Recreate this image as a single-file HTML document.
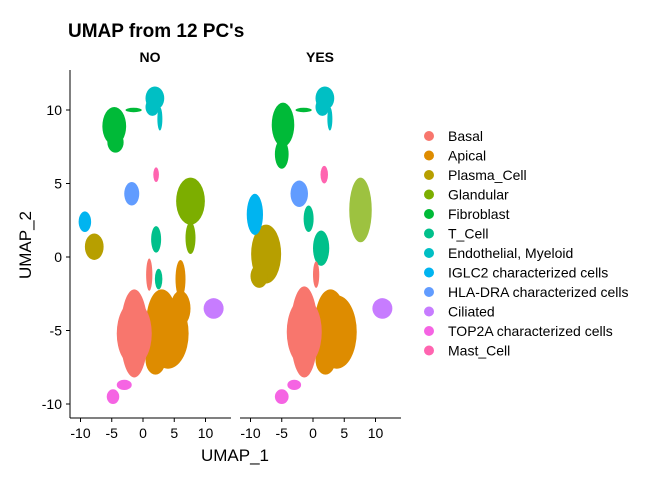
<!DOCTYPE html>
<html><head><meta charset="utf-8">
<style>
body{margin:0;background:#fff;font-family:"Liberation Sans",sans-serif;}
svg text{font-family:"Liberation Sans",sans-serif;}
</style></head>
<body>
<svg id="chart" width="672" height="480" viewBox="0 0 672 480" xmlns="http://www.w3.org/2000/svg">
<text x="68" y="37" font-size="19" font-weight="bold">UMAP from 12 PC's</text>
<text x="150" y="62" font-size="14" font-weight="bold" text-anchor="middle">NO</text>
<text x="320" y="62" font-size="14" font-weight="bold" text-anchor="middle">YES</text>
<text transform="translate(31,245) rotate(-90)" font-size="17" text-anchor="middle">UMAP_2</text>
<text x="235" y="461" font-size="17" text-anchor="middle">UMAP_1</text>
<g id="panels"></g>
<g id="legend"></g>
</svg>
<script>
const clusterNames=["Basal","Apical","Plasma_Cell","Glandular","Fibroblast","T_Cell","Endothelial, Myeloid","IGLC2 characterized cells","HLA-DRA characterized cells","Ciliated","TOP2A characterized cells","Mast_Cell"];
const clusterColors=["#F8766D","#DE8C00","#B79F00","#7CAE00","#00BA38","#00C08B","#00BFC4","#00B4F0","#619CFF","#C77CFF","#F564E3","#FF64B0"];
const xTicks=[-10,-5,0,5,10];
const yTicks=[-10,-5,0,5,10];
// blobs: cluster index, center x, center y, radius x, radius y (data units)
const noCluster=[4,4,4,6,6,6,3,3,9,2,7,8,11,5,5,1,1,1,1,1,0,0,0,10,10];
const noX=[-4.6,-4.4,-1.5,1.9,1.5,2.7,7.6,7.6,11.3,-7.8,-9.3,-1.8,2.1,2.1,2.5,4.0,3.0,2.0,6.0,6.0,-1.4,-1.4,1.0,-4.8,-3.0];
const noY=[8.9,7.8,10.0,10.8,10.2,9.4,3.8,1.3,-3.5,0.7,2.4,4.3,5.6,1.2,-1.5,-5.2,-4.5,-7.0,-1.5,-3.5,-5.2,-5.2,-1.2,-9.5,-8.7];
const noRX=[1.9,1.3,1.3,1.5,1.1,0.4,2.3,0.8,1.6,1.5,1.0,1.2,0.45,0.8,0.6,3.3,2.5,1.6,0.8,1.6,2.2,2.8,0.5,1.0,1.2];
const noRY=[1.3,0.7,0.15,0.8,0.6,0.8,1.6,1.1,0.7,0.9,0.7,0.8,0.5,0.9,0.7,2.4,2.3,1.0,1.3,1.2,3.0,2.2,1.1,0.5,0.35];
const yesCluster=[4,4,4,6,6,6,3,9,2,2,7,8,11,5,5,1,1,1,0,0,0,10,10];
const yesX=[-4.8,-5.0,-1.5,1.9,1.5,2.7,7.6,11.1,-7.5,-8.6,-9.3,-2.2,1.8,1.3,-0.7,3.8,2.8,2.0,-1.4,-1.4,0.5,-5.0,-3.0];
const yesY=[9.0,7.0,10.0,10.8,10.2,9.4,3.2,-3.5,0.2,-1.3,2.9,4.3,5.6,0.6,2.6,-5.1,-4.5,-7.0,-5.1,-5.1,-1.2,-9.5,-8.7];
const yesRX=[1.8,1.1,1.3,1.5,1.1,0.4,1.8,1.6,2.4,1.4,1.3,1.4,0.6,1.3,0.8,3.2,2.5,1.6,2.2,2.8,0.5,1.1,1.1];
const yesRY=[1.5,1.0,0.15,0.8,0.6,0.8,2.2,0.7,2.0,0.8,1.4,0.9,0.6,1.2,0.9,2.5,2.3,1.0,3.1,2.3,0.9,0.5,0.35];

const NS="http://www.w3.org/2000/svg";
const panels=document.getElementById('panels');
function yScale(v){return 257-14.7*v;}
function mk(tag,attrs){const e=document.createElementNS(NS,tag);for(const k in attrs)e.setAttribute(k,attrs[k]);return e;}
function drawPanel(name,offset,cl,xs,ys,rxs,rys,sparseGland){
  const xScale=v=>offset+6.25*v;
  const g=mk('g',{});
  
  
  panels.appendChild(g);
  for(let i=0;i<cl.length;i++){
    const e=mk('ellipse',{cx:xScale(xs[i]),cy:yScale(ys[i]),rx:rxs[i]*6.25,ry:rys[i]*14.7,fill:clusterColors[cl[i]]});
    if(sparseGland&&cl[i]===3)e.setAttribute('fill-opacity','0.75');
    
    
    g.appendChild(e);
  }
  const ax=mk('line',{x1:offset-73,x2:offset+88,y1:418,y2:418,stroke:'#000','stroke-width':1});
  
  
  g.appendChild(ax);
  xTicks.forEach(t=>{
    const x=xScale(t);
    const tk=mk('line',{x1:x,x2:x,y1:418,y2:422,stroke:'#000'});
    
    
    g.appendChild(tk);
    const lb=mk('text',{x:x,y:438,'font-size':14,'text-anchor':'middle'});
    lb.textContent=t;
    
    
    g.appendChild(lb);
  });
}
drawPanel('panel-no',143,noCluster,noX,noY,noRX,noRY,false);
drawPanel('panel-yes',313,yesCluster,yesX,yesY,yesRX,yesRY,true);
const yl=mk('line',{x1:70,x2:70,y1:70,y2:418,stroke:'#000'});


panels.appendChild(yl);
yTicks.forEach(t=>{
  const y=yScale(t);
  const tk=mk('line',{x1:66,x2:70,y1:y,y2:y,stroke:'#000'});
  
  
  panels.appendChild(tk);
  const lb=mk('text',{x:62,y:y+5,'font-size':14,'text-anchor':'end'});
  lb.textContent=t;
  
  
  panels.appendChild(lb);
});
const leg=document.getElementById('legend');
clusterNames.forEach((n,i)=>{
  const y=136+i*19.5;
  const c=mk('circle',{cx:429,cy:y,r:5,fill:clusterColors[i]});
  
  
  leg.appendChild(c);
  const t=mk('text',{x:448,y:y+5,'font-size':14});
  t.textContent=n;
  
  
  leg.appendChild(t);
});
</script>
</body></html>
